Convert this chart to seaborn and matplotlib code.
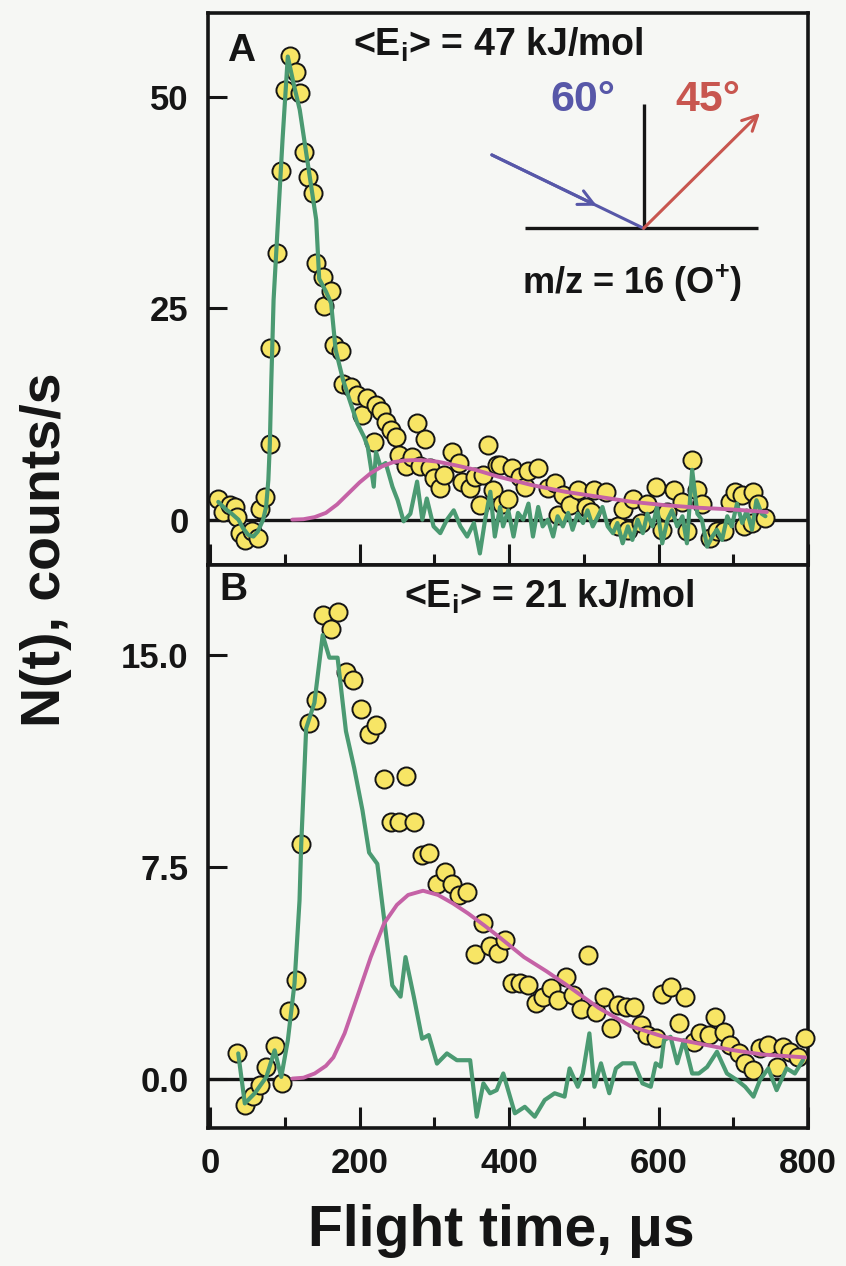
import matplotlib
matplotlib.use("Agg")
import matplotlib.pyplot as plt
import seaborn as sns
import pandas as pd

# ---- Panel A: <Ei> = 47 kJ/mol, m/z = 16 ----
a_time = [11, 17.7, 26.6, 33.2, 35.5, 39.9, 46.5, 55.5, 64.3, 66.5, 73.1, 79.8, 80.5,
          89.5, 95.3, 99.7, 107.3, 115.3, 119.7, 126.3, 130.7, 137.4, 141.9, 150.7,
          152.9, 161.8, 166.2, 175.1, 177.3, 188.4, 197.2, 203.9, 210.5, 219.4, 221.6,
          228.3, 235, 241.6, 248.3, 252.7, 261.5, 270.4, 277, 281.5, 288.1, 294.8,
          299.2, 308.1, 312.5, 323.6, 332.4, 336.9, 348, 354.7, 361.3, 365.7, 372.3,
          379, 383.4, 387.9, 390, 398.9, 403.4, 414.5, 421.1, 425.5, 438.8, 452.1,
          461, 465.4, 472.1, 481, 492, 503.1, 509.7, 514.2, 529.7, 545.2, 551.9,
          558.5, 565.2, 576.2, 585.1, 596.1, 605, 611.7, 620.6, 631.6, 638.3, 645,
          651.6, 658.2, 669.3, 678.2, 687.1, 695.9, 702.5, 711.4, 713.7, 724.7, 727,
          733.6, 742.4]
a_counts = [2.5, 0.9, 1.7, 1.5, 0.3, -1.6, -2.4, -1.4, -2.2, 1.3, 2.7, 9.0, 20.3,
            31.5, 41.2, 50.8, 54.9, 53.0, 50.5, 43.5, 40.6, 38.6, 30.4, 28.7,
            25.3, 27.1, 20.7, 19.9, 16.1, 15.7, 14.7, 12.4, 14.4, 9.2, 13.6,
            12.8, 11.6, 10.6, 9.8, 7.6, 6.3, 7.4, 11.4, 6.3, 9.6, 6.1,
            4.9, 3.7, 5.3, 8.0, 6.7, 4.5, 3.7, 5.1, 1.7, 5.3, 8.8,
            3.5, 6.5, 6.5, 1.9, 2.5, 6.1, 5.1, 3.9, 5.7, 6.1, 3.7,
            4.3, 0.5, 2.9, 1.7, 3.5, 1.5, 0.9, 3.5, 3.3, -0.8, 1.3,
            -1.2, 2.5, -0.4, 1.9, 3.9, -1.2, 0.9, 3.5, 2.1, -1.4, 7.1,
            3.5, 1.9, -2.2, -1.4, -1.4, 2.1, 3.3, 2.9, -0.8, -0.4, 3.3,
            1.9, 0.2]

a_ref_time = [11, 20, 29, 38, 44, 51, 58, 64, 71, 75, 78, 80, 82, 85, 91, 97, 104,
              112, 120, 131, 142, 146, 155, 162, 168, 178, 188, 197, 206, 211, 215,
              219, 222, 228, 235, 244, 251, 259, 268, 277, 284, 290, 299, 308, 317,
              326, 335, 344, 353, 361, 368, 375, 381, 388, 392, 399, 406, 412, 419,
              426, 432, 439, 445, 452, 459, 465, 472, 479, 485, 492, 499, 505, 512,
              519, 525, 532, 539, 545, 552, 559, 565, 572, 579, 585, 592, 598, 605,
              612, 618, 625, 632, 638, 645, 652, 658, 665, 672, 678, 685, 692, 698,
              705, 712, 718, 725, 731, 738, 743]
a_ref_counts = [2.1, 1.3, 0.7, 0.0, -1.0, -1.8, -2.0, -1.4, 0.0, 1.5, 4.7, 9.0, 16.5,
                26.0, 35.5, 45.0, 54.8, 51.5, 48.5, 42.0, 35.5, 28.5, 27.0, 25.6,
                20.1, 16.5, 13.8, 11.4, 9.8, 8.6, 6.3, 3.9, 8.0, 6.3, 6.7, 3.9, 2.3,
                -0.2, 0.7, 4.5, 0.0, 2.5, -0.8, -1.6, 0.0, 1.1, -0.8, -2.0, -0.4,
                -4.0, 0.0, 3.3, -2.0, 1.5, -0.8, 1.1, -2.0, 0.8, 0.0, 1.9, -2.0, 1.5,
                -0.8, 0.0, -2.0, 0.4, -0.8, 0.8, -1.2, 0.7, -0.4, 1.1, -0.8, 0.4,
                1.5, -0.8, -1.6, -0.4, -2.8, -0.8, -2.4, 0.0, -1.6, 0.7, -0.8, 1.5,
                -2.8, 0.0, 1.1, -0.8, 0.4, -2.8, 5.9, 0.7, 0.0, -3.2, -2.0, -1.2,
                -2.4, 0.4, -0.8, 1.9, -0.4, 1.1, -1.2, 2.3, 0.7, 0.4]

a_fit_time = [110, 125, 140, 155, 170, 185, 200, 215, 230, 245, 260, 275, 290, 305,
              330, 355, 385, 430, 475, 520, 565, 610, 655, 700, 745]
a_fit_counts = [0.0, 0.05, 0.3, 0.8, 1.8, 3.1, 4.4, 5.5, 6.3, 6.8, 7.0, 7.05, 7.0,
                6.85, 6.4, 5.9, 5.1, 4.1, 3.3, 2.7, 2.1, 1.7, 1.4, 1.2, 0.9]

# ---- Panel B: <Ei> = 21 kJ/mol ----
b_time = [36.3, 46.5, 57.6, 66.5, 75.4, 86.4, 96.7, 105.5, 115.3, 121.9, 132.1,
          141.9, 150.7, 161.8, 170.6, 181.8, 190.6, 201.7, 212.8, 221.6, 232.7,
          241.6, 252.7, 261.5, 272.6, 283.7, 292.6, 303.6, 314.8, 323.6, 332.4,
          343.5, 354.6, 365.7, 374.6, 385.6, 394.5, 403.4, 414.5, 425.5, 436.6,
          445.5, 456.5, 465.4, 476.5, 485.4, 496.4, 505.3, 516.4, 527.5, 536.3,
          545.2, 556.3, 567.4, 576.2, 585.1, 596.1, 605, 616.1, 627.3, 636, 647.2,
          656, 667.2, 675.9, 687.1, 695.9, 707.1, 715.9, 727, 735.8, 746.9, 758,
          766.9, 775.7, 786.9, 795.7]
b_counts = [0.9, -0.92, -0.6, -0.23, 0.41, 1.16, -0.17, 2.4, 3.5, 8.3, 12.6,
            13.4, 16.4, 15.9, 16.5, 14.4, 14.1, 13.1, 12.2, 12.5, 10.6,
            9.1, 9.1, 10.7, 9.1, 7.9, 8.0, 6.9, 7.3, 6.9, 6.5,
            6.6, 4.4, 5.5, 4.7, 4.45, 4.9, 3.37, 3.37, 3.3, 2.66,
            2.9, 3.2, 2.78, 3.6, 2.96, 2.48, 4.37, 2.36, 2.9, 1.78,
            2.6, 2.54, 2.54, 1.9, 1.54, 1.42, 3.0, 3.25, 1.95, 2.9, 1.3,
            1.6, 1.54, 2.19, 1.66, 1.19, 0.89, 0.54, 0.3, 1.07, 1.19, 0.42,
            1.13, 0.95, 0.77, 1.42]

b_ref_time = [37.7, 46.5, 59.8, 75.4, 86.4, 95.3, 104.1, 113, 119.7, 121.9, 128.6,
              139.6, 150.7, 159.6, 170.6, 181.8, 192.8, 203.9, 212.8, 223.8, 235,
              243.8, 254.9, 261.5, 272.6, 283.7, 292.6, 303.6, 316.9, 330.2, 348,
              356.8, 365.7, 374.6, 383.4, 392.3, 407.8, 421.1, 434.4, 447.7, 461,
              474.3, 481, 492, 498.7, 507.5, 514.2, 523, 534.1, 543, 551.9, 567.4,
              578.5, 589.6, 596.3, 602.9, 607.3, 616.1, 625, 633.9, 645, 653.9, 665,
              678.2, 691.5, 704.8, 715.9, 727, 735.8, 746.9, 758, 771.3, 782.4, 793.4]
b_ref_counts = [0.89, -0.88, -0.52, 0.06, 1.0, 0.06, 1.36, 3.37, 6.3, 8.24, 12.4,
                13.3, 15.7, 14.9, 14.9, 12.3, 11.0, 9.5, 8.0, 7.6, 5.2,
                3.3, 2.9, 4.3, 2.9, 1.41, 1.54, 0.53, 0.89, 0.65, 0.65,
                -1.35, -0.17, -0.52, -0.41, 0.18, -1.23, -1.0, -1.35, -0.76, -0.52,
                -0.64, 0.36, -0.29, 0.18, 1.6, -0.29, 0.54, -0.52, 0.36, 0.54, 0.54,
                -0.17, -0.29, 0.54, 0.42, 1.36, 1.48, 0.54, 1.36, 0.18, 0.18, 0.41,
                0.95, 0.18, -0.05, -0.29, -0.64, -0.05, 0.36, -0.41, 0.36, 0.18, 0.66]

b_fit_time = [110, 125, 140, 155, 165, 180, 197, 215, 233, 250, 265, 285, 305, 325,
              345, 368, 385, 420, 450, 475, 520, 563, 607, 652, 696, 740, 796]
b_fit_counts = [0.0, 0.03, 0.18, 0.45, 0.75, 1.6, 2.9, 4.3, 5.5, 6.15, 6.5, 6.65,
                6.5, 6.2, 5.85, 5.4, 5.05, 4.3, 3.8, 3.35, 2.5, 1.85, 1.48, 1.25,
                1.02, 0.85, 0.75]

x_ticks = [0, 200, 400, 600, 800]
x_minor = [100, 300, 500, 700]
a_yticks = [0, 25, 50]
a_ylabels = ["0", "25", "50"]
b_yticks = [0, 7.5, 15.0]
b_ylabels = ["0.0", "7.5", "15.0"]

BG = "#f6f7f4"
INK = "#151515"
YELLOW = "#f7e565"
GREEN = "#4b9a72"
MAGENTA = "#c562a6"
BLUE = "#5757a8"
RED = "#c8564f"

sns.set_theme(style="ticks")
plt.rcParams["font.family"] = ["Liberation Sans", "DejaVu Sans"]
plt.rcParams["font.weight"] = "bold"
plt.rcParams["mathtext.fontset"] = "custom"
plt.rcParams["mathtext.rm"] = "Liberation Sans:bold"
plt.rcParams["mathtext.it"] = "Liberation Sans:bold"
plt.rcParams["mathtext.bf"] = "Liberation Sans:bold"

fig = plt.figure(figsize=(8.46, 12.66), dpi=100, facecolor=BG)
axA = fig.add_axes([0.2459, 0.5537, 0.7092, 0.4360])
axB = fig.add_axes([0.2459, 0.1090, 0.7092, 0.4447])

panels = [
    (axA, a_time, a_counts, a_ref_time, a_ref_counts, a_fit_time, a_fit_counts,
     (-5.37, 59.95), a_yticks, a_ylabels),
    (axB, b_time, b_counts, b_ref_time, b_ref_counts, b_fit_time, b_fit_counts,
     (-1.75, 18.18), b_yticks, b_ylabels),
]

for ax, t, n, rt, rn, ft, fn, ylim, yt, yl in panels:
    ax.set_facecolor(BG)
    ax.axhline(0, color=INK, lw=2.4, zorder=2)
    sns.scatterplot(x=t, y=n, ax=ax, s=170, color=YELLOW, edgecolor=INK,
                    linewidth=1.4, zorder=3, clip_on=False)
    sns.lineplot(x=rt, y=rn, ax=ax, color=GREEN, lw=3.0, sort=False,
                 estimator=None, zorder=4)
    sns.lineplot(x=ft, y=fn, ax=ax, color=MAGENTA, lw=2.8, sort=False,
                 estimator=None, zorder=5)
    ax.set_xlim(-2.7, 795.2)
    ax.set_ylim(*ylim)
    ax.set_xticks(x_ticks)
    ax.set_xticks(x_minor, minor=True)
    ax.set_yticks(yt)
    ax.set_yticklabels(yl)
    ax.tick_params(axis="both", which="major", direction="in", width=2.2,
                   color=INK, labelsize=25, labelcolor=INK, pad=14)
    ax.tick_params(axis="x", which="major", length=15, top=False)
    ax.tick_params(axis="x", which="minor", direction="in", length=8,
                   width=2.2, color=INK, top=False)
    ax.tick_params(axis="y", which="major", length=14, right=False)
    ax.tick_params(axis="y", which="minor", left=False, right=False)
    for sp in ax.spines.values():
        sp.set_linewidth(2.6)
        sp.set_color(INK)
        sp.set_visible(True)
    ax.set_xlabel("")
    ax.set_ylabel("")

axA.tick_params(axis="x", labelbottom=False)

# panel labels and conditions
axA.text(0.055, 0.931, "A", transform=axA.transAxes, fontsize=28,
         ha="center", va="center", color=INK)
axA.text(0.483, 0.942, r"<E$_{\mathrm{i}}$> = 47 kJ/mol", transform=axA.transAxes,
         fontsize=27, ha="center", va="center", color=INK)
axA.text(0.707, 0.511, r"m/z = 16 (O$^{+}$)", transform=axA.transAxes,
         fontsize=26, ha="center", va="center", color=INK)
axB.text(0.042, 0.956, "B", transform=axB.transAxes, fontsize=28,
         ha="center", va="center", color=INK)
axB.text(0.568, 0.943, r"<E$_{\mathrm{i}}$> = 21 kJ/mol", transform=axB.transAxes,
         fontsize=27, ha="center", va="center", color=INK)

# scattering geometry sketch: surface, normal, incident and exit directions
tr = axA.transAxes
axA.plot([0.528, 0.917], [0.610, 0.610], transform=tr, color=INK, lw=2.4,
         solid_capstyle="butt", zorder=6)
axA.plot([0.726, 0.726], [0.610, 0.835], transform=tr, color=INK, lw=2.4,
         solid_capstyle="butt", zorder=6)
axA.plot([0.473, 0.726], [0.743, 0.610], transform=tr, color=BLUE, lw=2.2, zorder=6)
axA.annotate("", xy=(0.648, 0.651), xytext=(0.473, 0.743), xycoords="axes fraction",
             arrowprops=dict(arrowstyle="->,head_length=0.9,head_width=0.45",
                             color=BLUE, lw=2.2, shrinkA=0, shrinkB=0), zorder=6)
axA.annotate("", xy=(0.92, 0.819), xytext=(0.726, 0.610), xycoords="axes fraction",
             arrowprops=dict(arrowstyle="->,head_length=0.9,head_width=0.45",
                             color=RED, lw=2.2, shrinkA=0, shrinkB=0), zorder=6)
axA.text(0.625, 0.842, "60°", transform=tr, fontsize=31, ha="center",
         va="center", color=BLUE)
axA.text(0.833, 0.842, "45°", transform=tr, fontsize=31, ha="center",
         va="center", color=RED)

fig.text(0.054, 0.566, "N(t), counts/s", rotation=90, fontsize=40,
         ha="center", va="center", color=INK)
fig.text(0.592, 0.028, "Flight time, μs", fontsize=41, ha="center",
         va="center", color=INK)

fig.savefig("out.png", dpi=100, facecolor=BG)
